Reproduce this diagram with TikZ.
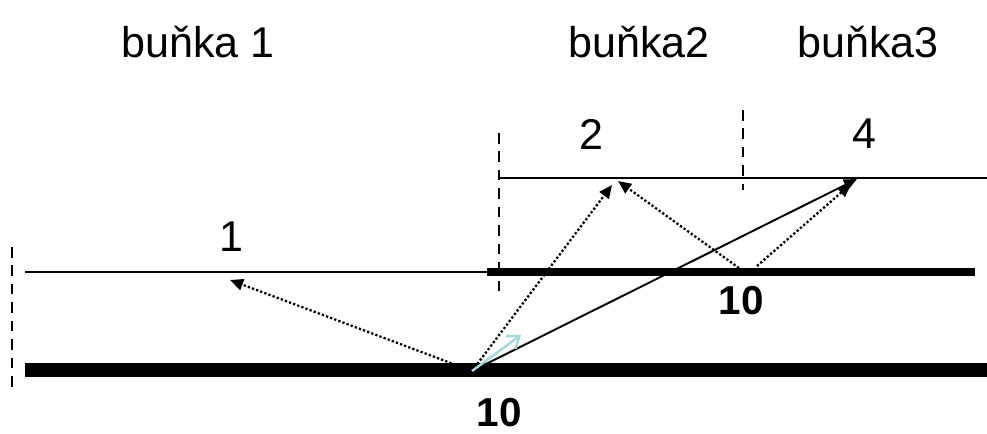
\documentclass[tikz,border=0pt]{standalone}
\usepackage{fontspec}
\setmainfont{Liberation Sans}
\usetikzlibrary{arrows.meta}
\definecolor{lightteal}{RGB}{165,215,222}

\begin{document}
\begin{tikzpicture}[x=.02cm,y=-.02cm,>={Triangle[length=7.5pt,width=6.5pt]},
  lbl/.style={font=\fontsize{24.5}{28}\selectfont},
  num/.style={font=\fontsize{23}{27}\selectfont\bfseries},
  cut/.style={line width=1.1pt,dash pattern=on 6pt off 4.5pt},
  ray/.style={->,line width=1.3pt,dash pattern=on 1.3pt off 1.2pt}]
\useasboundingbox (0,0) rectangle (987,433);
% hranice a vrstvy
\draw[cut] (12,247)--(12,388);
\draw[cut] (499,133)--(499,293);
\draw[cut] (743,110)--(743,190);
\draw[line width=1.2pt] (25,272)--(487,272);
\draw[line width=4pt] (487,272)--(975,272);
\draw[line width=1.2pt] (499,178)--(987,178);
\draw[line width=8.5pt] (25,370)--(987,370);
% body
\coordinate (src) at (472,371);
\coordinate (r1) at (739,268);
\coordinate (r2) at (757,266);
\coordinate (t1) at (230,280);
\coordinate (t2) at (612,185);
\coordinate (t3) at (618,181);
\coordinate (t4) at (851,184);
\coordinate (t5) at (857,179);
\coordinate (v) at (521,335);
% paprsky
\draw[ray] (src)--(t1);
\draw[ray] (src)--(t2);
\draw[ray] (r1)--(t3);
\draw[ray] (r2)--(t4);
\draw[->,line width=1.1pt] (src)--(t5);
\draw[-{Straight Barb[length=6pt,width=9pt]},line width=1.4pt,lightteal] (src)--(v);
% popisky
\node[lbl] (c1) at (198,42){buňka 1};
\node[lbl] (c2) at (639,42){buňka2};
\node[lbl] (c3) at (868,42){buňka3};
\node[lbl] (n1) at (231,237){1};
\node[lbl] (n2) at (591,134){2};
\node[lbl] (n4) at (864,134){4};
\node[num] (h1) at (741,301){10};
\node[num] (h2) at (499,413){10};
\end{tikzpicture}
\end{document}
